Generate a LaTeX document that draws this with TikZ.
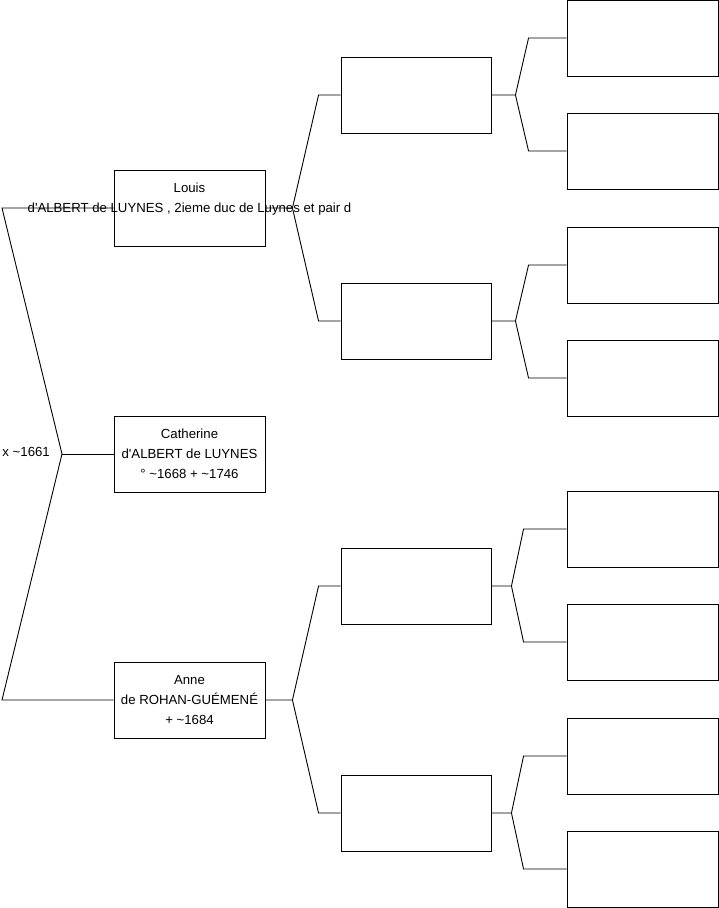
\documentclass[tikz,border=0pt]{standalone}
\usepackage{fontspec}
\setmainfont{Liberation Sans}
\usetikzlibrary{positioning}
\usetikzlibrary{calc}

\tikzset{
  person/.style={draw, line width=0.9pt, minimum width=151pt, minimum height=76pt,
    inner sep=0pt, align=center},
  link/.style={line width=0.9pt}
}

\begin{document}
\begin{tikzpicture}[x=1pt, y=-1pt, every node/.style={font=\fontsize{13.2}{20}\selectfont}]
    \useasboundingbox (0,0) rectangle (719,908);
    % first column
    \node[person] (louis) at (189.5,208) {\strut Louis\\\strut\makebox[0pt]{d\textquotesingle ALBERT de LUYNES , 2ieme duc de Luynes et pair d}\\\strut};
    \node[person] (catherine) at (189.5,454) {\strut Catherine\\\strut d\textquotesingle ALBERT de LUYNES\\\strut ° \textasciitilde1668 + \textasciitilde1746};
    \node[person] (anne) at (189.5,700) {\strut Anne\\\strut de ROHAN-GUÉMENÉ\\\strut + \textasciitilde1684};
    % parents and grandparents
    \foreach \n/\y in {1/95, 2/321, 3/586, 4/813}
        \node[person, minimum width=150pt] (q\n) at (416,\y) {};
    \foreach \n/\y in {1/38, 2/151, 3/265, 4/378, 5/529, 6/642, 7/756, 8/869}
        \node[person] (r\n) at (642.5,\y) {};
    % marriage bracket
    \coordinate (mar) at (62,454);
    \coordinate (ltop) at (2,208);
    \coordinate (lbot) at (2,700);
    \draw[link] (louis.west) -- (ltop) -- (mar) -- (lbot) -- (anne.west);
    \draw[link] (mar) -- (catherine.west);
    \node[anchor=east, inner sep=0pt] (mardate) at (50,452) {x \textasciitilde1661};
    % first column to parents
    \foreach \p/\a/\b in {louis/1/2, anne/3/4} {
        \coordinate (f\p) at ($(\p.east)+(27,0)$);
        \draw[link] (\p.east) -- (f\p) -- ($(q\a.west)+(-22,0)$) -- (q\a.west);
        \draw[link] (f\p) -- ($(q\b.west)+(-22,0)$) -- (q\b.west);
    }
    % parents to grandparents
    \foreach \q/\a/\b/\f/\k in {1/1/2/24/38, 2/3/4/24/38, 3/5/6/20/43, 4/7/8/20/43} {
        \coordinate (g\q) at ($(q\q.east)+(\f,0)$);
        \draw[link] (q\q.east) -- (g\q) -- ($(r\a.west)+(-\k,0)$) -- (r\a.west);
        \draw[link] (g\q) -- ($(r\b.west)+(-\k,0)$) -- (r\b.west);
    }
\end{tikzpicture}
\end{document}
